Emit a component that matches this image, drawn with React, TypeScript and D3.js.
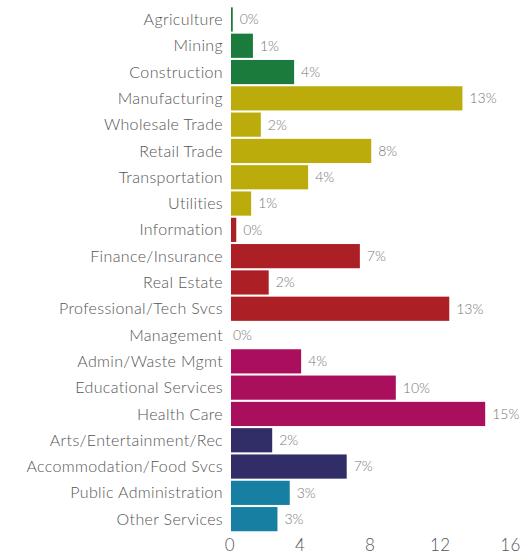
import React from "react";
import * as d3 from "d3";

const categories = [
  "Agriculture", "Mining", "Construction", "Manufacturing", "Wholesale Trade",
  "Retail Trade", "Transportation", "Utilities", "Information", "Finance/Insurance",
  "Real Estate", "Professional/Tech Svcs", "Management", "Admin/Waste Mgmt",
  "Educational Services", "Health Care", "Arts/Entertainment/Rec",
  "Accommodation/Food Svcs", "Public Administration", "Other Services",
];
const values = [0.1, 1.25, 3.6, 13.2, 1.7, 8.0, 4.4, 1.15, 0.3, 7.35, 2.15, 12.45, 0, 4.0, 9.4, 14.5, 2.35, 6.6, 3.35, 2.65];
const valueLabels = ["0%", "1%", "4%", "13%", "2%", "8%", "4%", "1%", "0%", "7%", "2%", "13%", "0%", "4%", "10%", "15%", "2%", "7%", "3%", "3%"];
const groups = ["g", "g", "g", "y", "y", "y", "y", "y", "r", "r", "r", "r", "r", "m", "m", "m", "n", "n", "t", "t"];
const groupColors: Record<string, string> = {
  g: "#1b7b3d",
  y: "#bbab0b",
  r: "#ab1f25",
  m: "#aa0f5e",
  n: "#312d66",
  t: "#167fa2",
};
const xTicks = [0, 4, 8, 12, 16];

export default function App() {
  const W = 529, H = 555;
  const x = d3.scaleLinear().domain([0, 16]).range([231, 511.5]);
  const y = d3.scaleBand<string>().domain(categories).range([6.3, 532.3]).paddingInner(0.08).paddingOuter(0.04);
  const font = "Lato, 'Open Sans', sans-serif";
  return (
    <svg width={W} height={H} style={{ position: "absolute", left: 0, top: 0 }} fontFamily={font}>
      <rect width={W} height={H} fill="#fff" />
      {categories.map((c, i) => {
        const yc = (y(c) as number) + y.bandwidth() / 2;
        return (
          <g key={c}>
            <text x={223} y={yc} dy="0.35em" textAnchor="end" fontSize={16} letterSpacing={0.35} fill="#555" fontWeight={300}>{c}</text>
            {values[i] > 0 && (
              <rect x={x(0)} y={y(c)} width={x(values[i]) - x(0)} height={y.bandwidth()} fill={groupColors[groups[i]]} />
            )}
            <text x={x(values[i]) + (values[i] > 0 ? 7 : 2)} y={yc} dy="0.35em" fontSize={14} fill="#777" fontWeight={300}>{valueLabels[i]}</text>
          </g>
        );
      })}
      {xTicks.map((t) => (
        <text key={t} x={x(t) - 1} y={545} dy="0.35em" textAnchor="middle" fontSize={17} letterSpacing={0.5} fill="#555" fontWeight={300}>{t}</text>
      ))}
    </svg>
  );
}
